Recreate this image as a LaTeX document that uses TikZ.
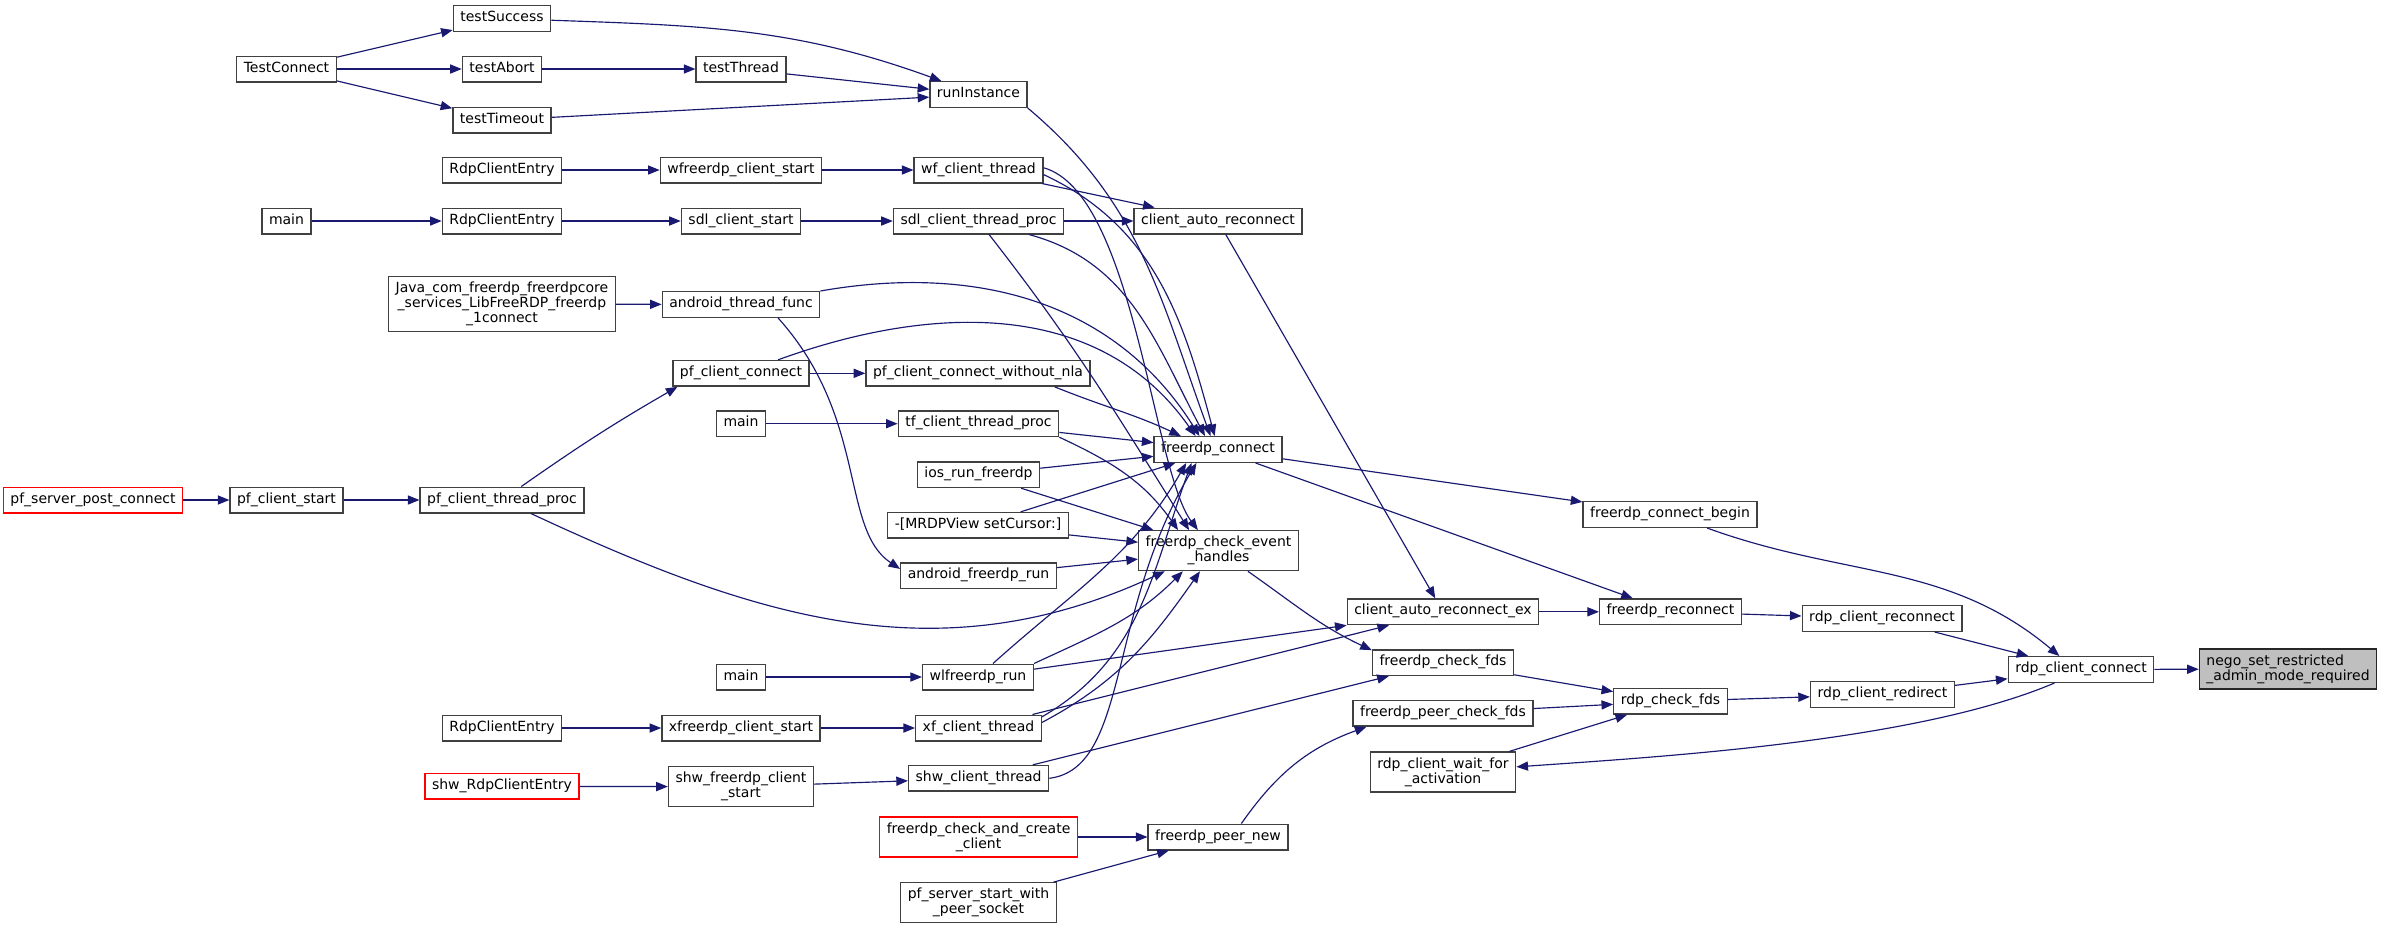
\documentclass[tikz,border=0pt]{standalone}
\usepackage{fontspec}
\setmainfont{DejaVu Sans}
\usetikzlibrary{arrows.meta}
\definecolor{navyline}{HTML}{191970}
\definecolor{maingray}{HTML}{BFBFBF}
\tikzstyle{cfun}=[draw=black!75, line width=0.38pt, fill=white, inner xsep=2pt, inner ysep=1.55pt, text height=3.0pt, text depth=1.2pt, font={\fontsize{3.98pt}{4.27pt}\selectfont}]
\tikzstyle{cmulti}=[draw=black!75, line width=0.38pt, fill=white, inner xsep=2pt, inner ysep=1.55pt, align=center, font={\fontsize{3.98pt}{4.27pt}\selectfont}]
\tikzstyle{cred}=[draw=red]
\tikzstyle{cgray}=[fill=maingray, draw=black!85, align=left]
\tikzstyle{cedge}=[navyline, line width=0.33pt, -{Triangle[length=3.3pt,width=2.6pt]}]

\begin{document}
\begin{tikzpicture}[x=0.01cm, y=0.01cm]
\useasboundingbox (0,0) rectangle (2381,-929);

\node[cfun] (n1) at (286.5,-69) {TestConnect};
\node[cfun] (n2) at (502,-18.5) {testSuccess};
\node[cfun] (n3) at (502,-69) {testAbort};
\node[cfun] (n4) at (502,-120) {testTimeout};
\node[cfun] (n5) at (741,-69) {testThread};
\node[cfun] (n6) at (978.5,-94.5) {runInstance};
\node[cfun] (n7) at (502,-170) {RdpClientEntry};
\node[cfun] (n8) at (741,-170) {wfreerdp\_client\_start};
\node[cfun] (n9) at (978.5,-170) {wf\_client\_thread};
\node[cfun] (n10) at (286.5,-221) {main};
\node[cfun] (n11) at (502,-221) {RdpClientEntry};
\node[cfun] (n12) at (741,-221) {sdl\_client\_start};
\node[cfun] (n13) at (978.5,-221) {sdl\_client\_thread\_proc};
\node[cfun] (n14) at (1218,-221) {client\_auto\_reconnect};
\node[cmulti] (n15) at (502,-304) {Java\_com\_freerdp\_freerdpcore\\\_services\_LibFreeRDP\_freerdp\\\_1connect};
\node[cfun] (n16) at (741,-304.5) {android\_thread\_func};
\node[cfun] (n17) at (741,-373.3) {pf\_client\_connect};
\node[cfun] (n18) at (978,-373.3) {pf\_client\_connect\_without\_nla};
\node[cfun] (n19) at (741,-423.7) {main};
\node[cfun] (n20) at (978.5,-423.7) {tf\_client\_thread\_proc};
\node[cfun] (n21) at (1218,-449.5) {freerdp\_connect};
\node[cfun] (n22) at (978.5,-474.7) {ios\_run\_freerdp};
\node[cfun, cred] (n23) at (93,-500) {pf\_server\_post\_connect};
\node[cfun] (n24) at (286.5,-500) {pf\_client\_start};
\node[cfun] (n25) at (502,-500) {pf\_client\_thread\_proc};
\node[cfun] (n26) at (978,-525.3) {-[MRDPView setCursor:]};
\node[cmulti] (n27) at (1218.5,-550.7) {freerdp\_check\_event\\\_handles};
\node[cfun] (n28) at (978.5,-575.8) {android\_freerdp\_run};
\node[cfun] (n29) at (1443,-611.8) {client\_auto\_reconnect\_ex};
\node[cfun] (n30) at (1670,-514.5) {freerdp\_connect\_begin};
\node[cfun] (n31) at (1670.5,-611.8) {freerdp\_reconnect};
\node[cfun] (n32) at (1882,-618.5) {rdp\_client\_reconnect};
\node[cfun] (n33) at (1443,-662.7) {freerdp\_check\_fds};
\node[cfun] (n34) at (741,-677) {main};
\node[cfun] (n35) at (978,-677) {wlfreerdp\_run};
\node[cfun] (n36) at (2081,-669.5) {rdp\_client\_connect};
\node[cmulti, cgray] (n37) at (2288,-669) {nego\_set\_restricted\\\_admin\_mode\_required};
\node[cfun] (n38) at (1670.5,-701.3) {rdp\_check\_fds};
\node[cfun] (n39) at (1882.5,-694.5) {rdp\_client\_redirect};
\node[cfun] (n40) at (1443,-713.3) {freerdp\_peer\_check\_fds};
\node[cfun] (n41) at (502,-728) {RdpClientEntry};
\node[cfun] (n42) at (741,-728) {xfreerdp\_client\_start};
\node[cfun] (n43) at (978.5,-728) {xf\_client\_thread};
\node[cmulti] (n44) at (1443,-772) {rdp\_client\_wait\_for\\\_activation};
\node[cfun, cred] (n45) at (502,-786.3) {shw\_RdpClientEntry};
\node[cmulti] (n46) at (741,-786.7) {shw\_freerdp\_client\\\_start};
\node[cfun] (n47) at (978.6,-778.3) {shw\_client\_thread};
\node[cmulti, cred] (n48) at (978.6,-837) {freerdp\_check\_and\_create\\\_client};
\node[cfun] (n49) at (1218,-837) {freerdp\_peer\_new};
\node[cmulti] (n50) at (978.5,-902.7) {pf\_server\_start\_with\\\_peer\_socket};

\draw[cedge] (n1) -- (n2);
\draw[cedge] (n1) -- (n3);
\draw[cedge] (n1) -- (n4);
\draw[cedge] (n2) to[out=-2,in=160] (n6);
\draw[cedge] (n3) -- (n5);
\draw[cedge] (n5) -- (n6);
\draw[cedge] (n4) -- (n6);
\draw[cedge] (n6.south east) to[out=-40,in=110] (n21.119);
\draw[cedge] (n7) -- (n8);
\draw[cedge] (n8) -- (n9);
\draw[cedge] (n9) -- (n14);
\draw[cedge] (n9.-4) to[out=-25,in=105] (n21.104);
\draw[cedge] (n9.2) .. controls +(90,-25) and +(-45,60) .. (n27.135);
\draw[cedge] (n10) -- (n11);
\draw[cedge] (n11) -- (n12);
\draw[cedge] (n12) -- (n13);
\draw[cedge] (n13) -- (n14);
\draw[cedge] (n13) to[out=-15,in=118] (n21.134);
\draw[cedge] (n13) to[out=-52,in=122] (n27.145);
\draw[cedge] (n15) -- (n16);
\draw[cedge] (n16.north east) to[out=10,in=122] (n21.144);
\draw[cedge] (n16.-20) .. controls +(90,-100) and +(-60,40) .. (n28.175);
\draw[cedge] (n14) -- (n29);
\draw[cedge] (n17) -- (n18);
\draw[cedge] (n17) to[out=20,in=125] (n21.149);
\draw[cedge] (n18.-10) to[out=-22,in=155] (n21.160);
\draw[cedge] (n19) -- (n20);
\draw[cedge] (n20) -- (n21);
\draw[cedge] (n20.south east) to[out=-25,in=125] (n27.153);
\draw[cedge] (n22) -- (n21);
\draw[cedge] (n22) -- (n27);
\draw[cedge] (n23) -- (n24);
\draw[cedge] (n24) -- (n25);
\draw[cedge] (n25) to[out=35,in=-150] (n17.-168);
\draw[cedge] (n25) to[out=-25,in=-155] (n27.-159);
\draw[cedge] (n26) -- (n21);
\draw[cedge] (n26) -- (n27);
\draw[cedge] (n28) -- (n27);
\draw[cedge] (n21) -- (n30);
\draw[cedge] (n21) -- (n31);
\draw[cedge] (n27) to[out=-35,in=155] (n33.170);
\draw[cedge] (n29) -- (n31);
\draw[cedge] (n31) -- (n32);
\draw[cedge] (n30) to[out=-20,in=140] (n36.148);
\draw[cedge] (n32) -- (n36);
\draw[cedge] (n39) -- (n36);
\draw[cedge] (n36) -- (n37);
\draw[cedge] (n36.-153) to[out=-157,in=4,looseness=0.7] (n44);
\draw[cedge] (n33) -- (n38);
\draw[cedge] (n40) -- (n38);
\draw[cedge] (n44) -- (n38);
\draw[cedge] (n38) -- (n39);
\draw[cedge] (n34) -- (n35);
\draw[cedge] (n35) to[out=42,in=-120] (n21.-157);
\draw[cedge] (n35.north east) to[out=25,in=-135] (n27.-150);
\draw[cedge] (n35) -- (n29);
\draw[cedge] (n41) -- (n42);
\draw[cedge] (n42) -- (n43);
\draw[cedge] (n43.10) to[out=30,in=-110] (n21.-153);
\draw[cedge] (n43.5) to[out=28,in=-125] (n27.-132);
\draw[cedge] (n43) -- (n29);
\draw[cedge] (n45) -- (n46);
\draw[cedge] (n46) -- (n47);
\draw[cedge] (n47) -- (n33);
\draw[cedge] (n47.east) .. controls +(80,10) and +(-90,-150) .. (n21.-148);
\draw[cedge] (n48) -- (n49);
\draw[cedge] (n50) -- (n49);
\draw[cedge] (n49.30) to[out=55,in=-160] (n40.-170);

\end{tikzpicture}
\end{document}
